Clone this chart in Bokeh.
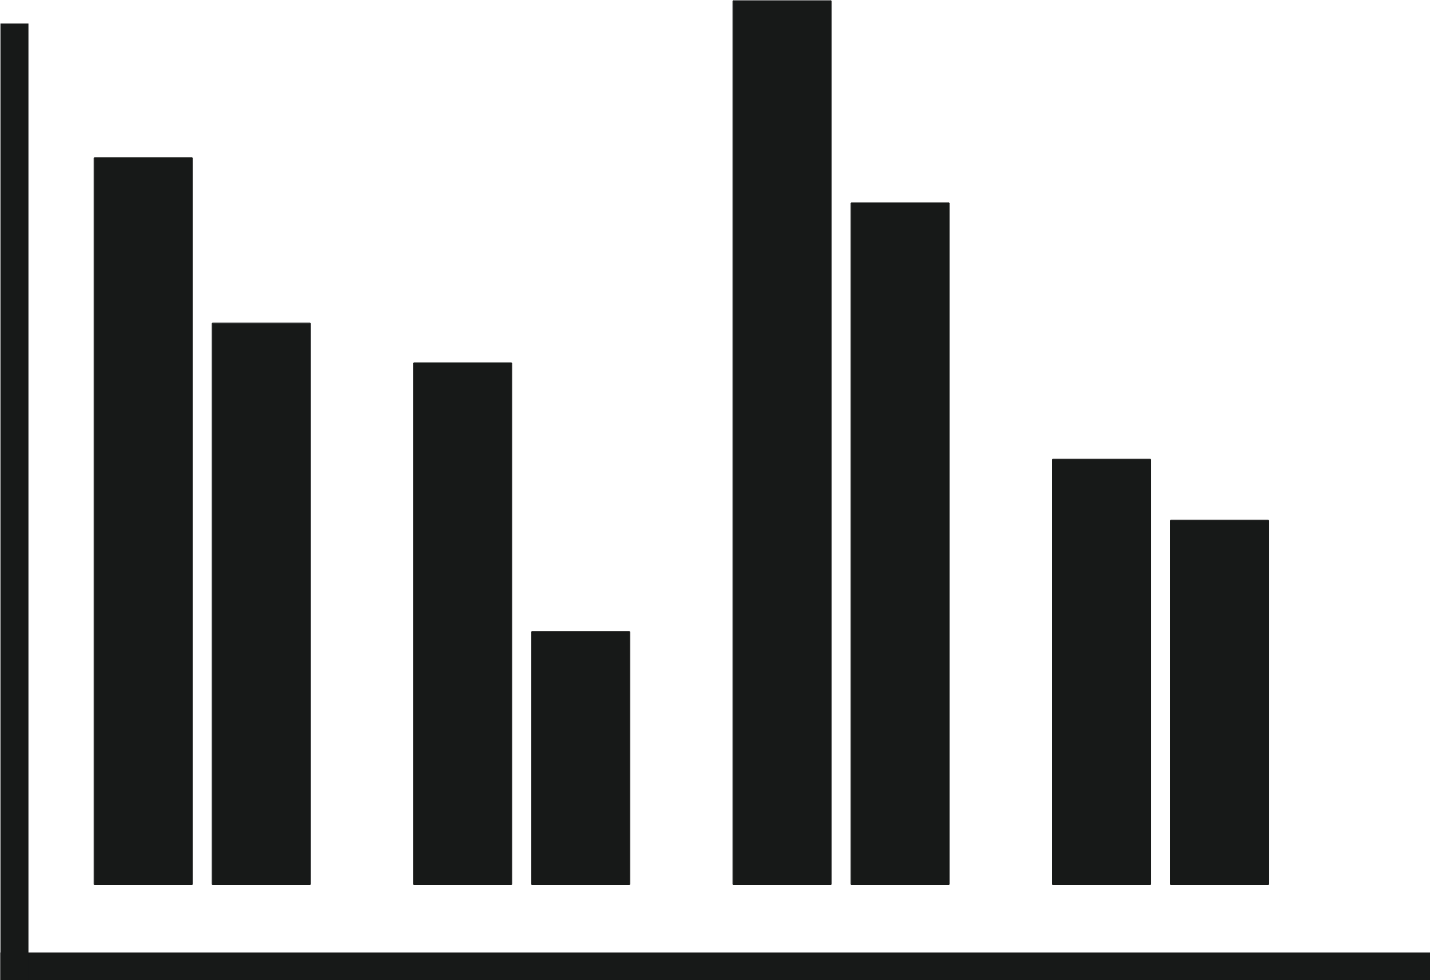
import numpy as np
from bokeh.plotting import figure
from bokeh.models import Range1d, ColumnDataSource, FixedTicker
from bokeh.embed import file_html
from bokeh.resources import INLINE

# ---- data ----
groups = ["A", "B", "C", "D"]
series_1 = [82.2, 59.0, 100.0, 48.1]
series_2 = [63.5, 28.6, 77.1, 41.2]

INK = "#171918"

pos = np.arange(len(groups), dtype=float)
offset = 0.1847
bar_w = 0.3068
PX = 8.84  # pixels per value unit

p = figure(
    width=1430, height=980,
    output_backend="svg", toolbar_location=None,
    x_range=Range1d(-0.5878, 3.8452),
    y_range=Range1d(-82 / PX, 884 / PX),
    min_border_left=14, min_border_right=0,
    min_border_top=0, min_border_bottom=14,
    background_fill_color="white", border_fill_color="white",
)
p.outline_line_color = None
p.grid.visible = False

src1 = ColumnDataSource(dict(x=pos - offset, top=series_1, g=groups))
src2 = ColumnDataSource(dict(x=pos + offset, top=series_2, g=groups))
p.vbar(x="x", top="top", bottom=0, width=bar_w, source=src1,
       fill_color=INK, line_color=INK, line_width=1)
p.vbar(x="x", top="top", bottom=0, width=bar_w, source=src2,
       fill_color=INK, line_color=INK, line_width=1)

for ax in (p.xaxis[0], p.yaxis[0]):
    ax.ticker = FixedTicker(ticks=[])
    ax.axis_line_color = INK
    ax.axis_line_width = 28
    ax.axis_line_cap = "square"
    ax.major_tick_line_color = None
    ax.minor_tick_line_color = None
    ax.major_tick_out = 0
    ax.major_tick_in = 0
    ax.minor_tick_out = 0
    ax.minor_tick_in = 0
    ax.major_label_standoff = 0
    ax.axis_label = None

p.yaxis[0].bounds = (-82 / PX, (884 - 37) / PX)

open("out.html", "w").write(file_html(p, INLINE))
